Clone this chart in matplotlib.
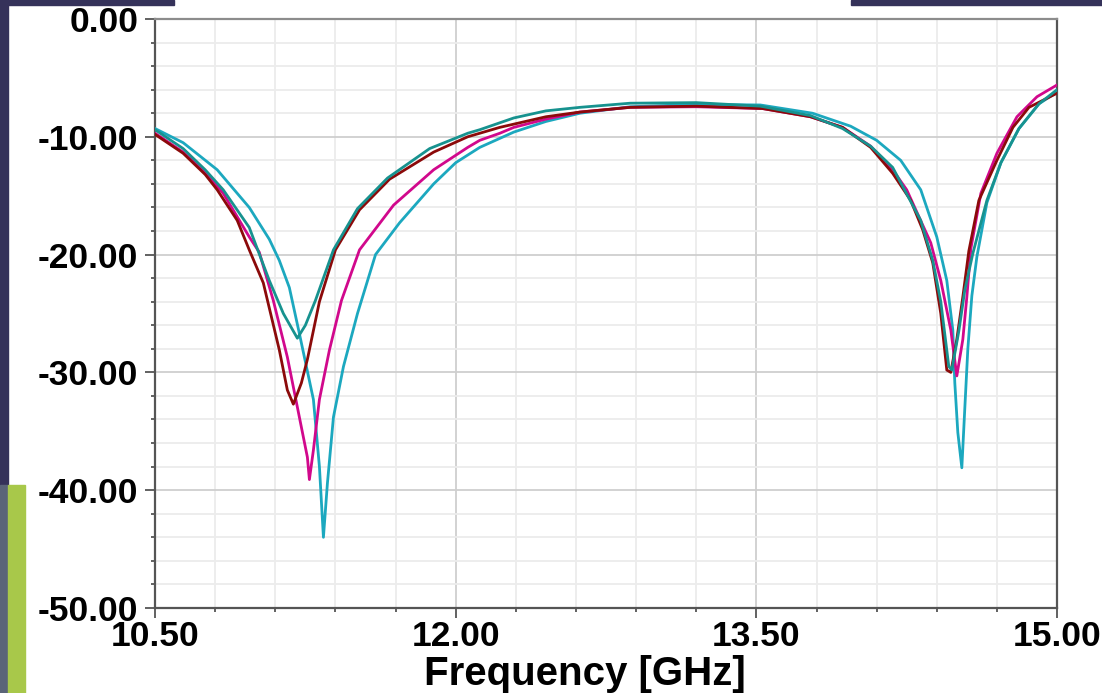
import numpy as np
import matplotlib.pyplot as plt
import matplotlib as mpl
from matplotlib.ticker import MultipleLocator, FormatStrFormatter
from matplotlib.patches import Rectangle

# curves: frequency [GHz], S11 [dB]
f_maroon = [10.50, 10.64, 10.75, 10.81, 10.91, 10.97, 11.04, 11.12, 11.16, 11.19, 11.23, 11.26, 11.32,
            11.40, 11.52, 11.67, 11.89, 12.06, 12.22, 12.45, 12.62, 12.87, 13.20, 13.53, 13.77, 13.93,
            14.07, 14.18, 14.27, 14.33, 14.38, 14.42, 14.45, 14.47, 14.50, 14.53, 14.56, 14.61, 14.70,
            14.78, 14.86, 15.00]
s_maroon = [-9.8, -11.4, -13.2, -14.5, -17.1, -19.6, -22.4, -28.1, -31.5, -32.7, -30.9, -28.9, -24.0,
            -19.6, -16.2, -13.6, -11.3, -10.0, -9.2, -8.3, -7.9, -7.5, -7.4, -7.6, -8.3, -9.2,
            -10.9, -13.1, -15.4, -17.9, -20.7, -25.0, -29.8, -30.0, -27.2, -23.6, -19.7, -15.4, -12.0,
            -9.2, -7.5, -6.3]

f_magenta = [10.50, 10.64, 10.75, 10.84, 10.97, 11.02, 11.09, 11.16, 11.22, 11.26, 11.27, 11.29, 11.32,
             11.37, 11.43, 11.52, 11.69, 11.89, 12.06, 12.12, 12.22, 12.29, 12.45, 12.62, 12.87, 13.20,
             13.53, 13.77, 13.93, 14.07, 14.18, 14.25, 14.37, 14.42, 14.47, 14.50, 14.53, 14.55, 14.57,
             14.62, 14.70, 14.80, 14.90, 15.00]
s_magenta = [-9.7, -11.3, -13.0, -14.8, -18.5, -19.8, -23.9, -28.7, -33.8, -37.2, -39.1, -36.6, -32.3,
             -28.1, -23.9, -19.6, -15.8, -12.8, -10.9, -10.3, -9.7, -9.2, -8.5, -7.9, -7.5, -7.45,
             -7.6, -8.3, -9.2, -10.8, -12.8, -14.5, -19.0, -22.2, -26.4, -30.3, -27.2, -23.6, -19.5,
             -14.8, -11.4, -8.3, -6.6, -5.6]

f_teal = [10.50, 10.64, 10.75, 10.84, 10.97, 11.07, 11.14, 11.21, 11.25, 11.30, 11.39, 11.51, 11.66,
          11.87, 12.06, 12.12, 12.29, 12.45, 12.62, 12.87, 13.20, 13.52, 13.77, 13.93, 14.07, 14.18,
          14.32, 14.38, 14.42, 14.46, 14.475, 14.51, 14.54, 14.58, 14.65, 14.72, 14.81, 14.91, 15.00]
s_teal = [-9.4, -11.0, -12.8, -14.5, -17.7, -22.2, -25.0, -27.1, -26.0, -23.9, -19.6, -16.1, -13.5,
          -11.0, -9.7, -9.4, -8.4, -7.8, -7.5, -7.15, -7.1, -7.4, -8.2, -9.3, -10.8, -12.6,
          -17.1, -20.5, -24.0, -29.5, -29.8, -26.5, -23.0, -19.9, -15.4, -12.2, -9.3, -7.2, -6.0]

f_cyan = [10.50, 10.64, 10.81, 10.97, 11.07, 11.12, 11.17, 11.22, 11.29, 11.32, 11.34, 11.36, 11.39,
          11.44, 11.51, 11.60, 11.72, 11.89, 12.00, 12.12, 12.29, 12.45, 12.62, 12.87, 13.20, 13.52,
          13.78, 13.97, 14.10, 14.22, 14.32, 14.40, 14.45, 14.48, 14.49, 14.505, 14.525, 14.54, 14.555,
          14.575, 14.60, 14.65, 14.72, 14.81, 14.91, 15.00]
s_cyan = [-9.3, -10.5, -12.8, -16.0, -18.7, -20.5, -22.8, -26.7, -32.3, -38.0, -44.0, -39.4, -33.8,
          -29.5, -25.0, -20.0, -17.3, -14.0, -12.2, -10.9, -9.6, -8.7, -8.0, -7.45, -7.25, -7.3,
          -8.0, -9.1, -10.3, -12.0, -14.5, -18.5, -22.2, -26.4, -30.9, -35.1, -38.1, -33.0, -28.0,
          -23.5, -20.2, -15.6, -12.2, -9.3, -7.2, -6.2]

FONT = 'Liberation Sans'
mpl.rc('font', family=FONT, weight='bold')

fig = plt.figure(figsize=(11.02, 6.93), dpi=100)
fig.patch.set_facecolor('white')
# screenshot edges (slide background behind the plot window)
fig.patches.append(Rectangle((0, 0.30), 0.0075, 0.70, transform=fig.transFigure, color='#35325a', zorder=0))
fig.patches.append(Rectangle((0, 0.0), 0.0075, 0.30, transform=fig.transFigure, color='#5a6478', zorder=0))
fig.patches.append(Rectangle((0.0075, 0.0), 0.015, 0.30, transform=fig.transFigure, color='#a8c84a', zorder=0))
fig.patches.append(Rectangle((0, 0.993), 0.158, 0.007, transform=fig.transFigure, color='#35325a', zorder=0))
fig.patches.append(Rectangle((0.772, 0.993), 0.228, 0.007, transform=fig.transFigure, color='#35325a', zorder=0))

ax = fig.add_axes([0.1407, 0.1227, 0.8185, 0.8499])

ax.plot(f_cyan, s_cyan, color='#1ca8bf', lw=2.0, zorder=3)
ax.plot(f_magenta, s_magenta, color='#d1088c', lw=2.0, zorder=3)
ax.plot(f_maroon, s_maroon, color='#8b0a0a', lw=2.0, zorder=3)
ax.plot(f_teal, s_teal, color='#17928f', lw=2.0, zorder=3)

ax.set_xlim(10.5, 15.0)
ax.set_ylim(-50, 0)
ax.xaxis.set_major_locator(MultipleLocator(1.5))
ax.xaxis.set_minor_locator(MultipleLocator(0.3))
ax.yaxis.set_major_locator(MultipleLocator(10))
ax.yaxis.set_minor_locator(MultipleLocator(2))
ax.xaxis.set_major_formatter(FormatStrFormatter('%.2f'))
ax.yaxis.set_major_formatter(FormatStrFormatter('%.2f'))

ax.grid(which='major', color='#cfcfcf', lw=1.3, zorder=1)
ax.grid(which='minor', color='#ececec', lw=1.3, zorder=1)
ax.set_axisbelow(True)

for side in ['left', 'bottom', 'right']:
    ax.spines[side].set_color('#555555')
    ax.spines[side].set_linewidth(1.6)
ax.spines['top'].set_color('#8c8c8c')
ax.spines['top'].set_linewidth(1.6)

ax.tick_params(axis='both', which='major', length=7, width=1.3, color='#555555', direction='out',
               labelsize=25.5, top=False, right=False)
ax.tick_params(axis='both', which='minor', length=3, width=1.3, color='#555555', direction='out',
               top=False, right=False)
ax.tick_params(axis='y', which='major', pad=5)
ax.tick_params(axis='x', which='major', pad=1.5)

ax.set_xlabel('Frequency [GHz]', fontsize=29, fontweight='bold')
ax.xaxis.set_label_coords(0.476, -0.080, transform=ax.transAxes)
ax.xaxis.label.set_va('top')

plt.savefig('out.png', dpi=100)
